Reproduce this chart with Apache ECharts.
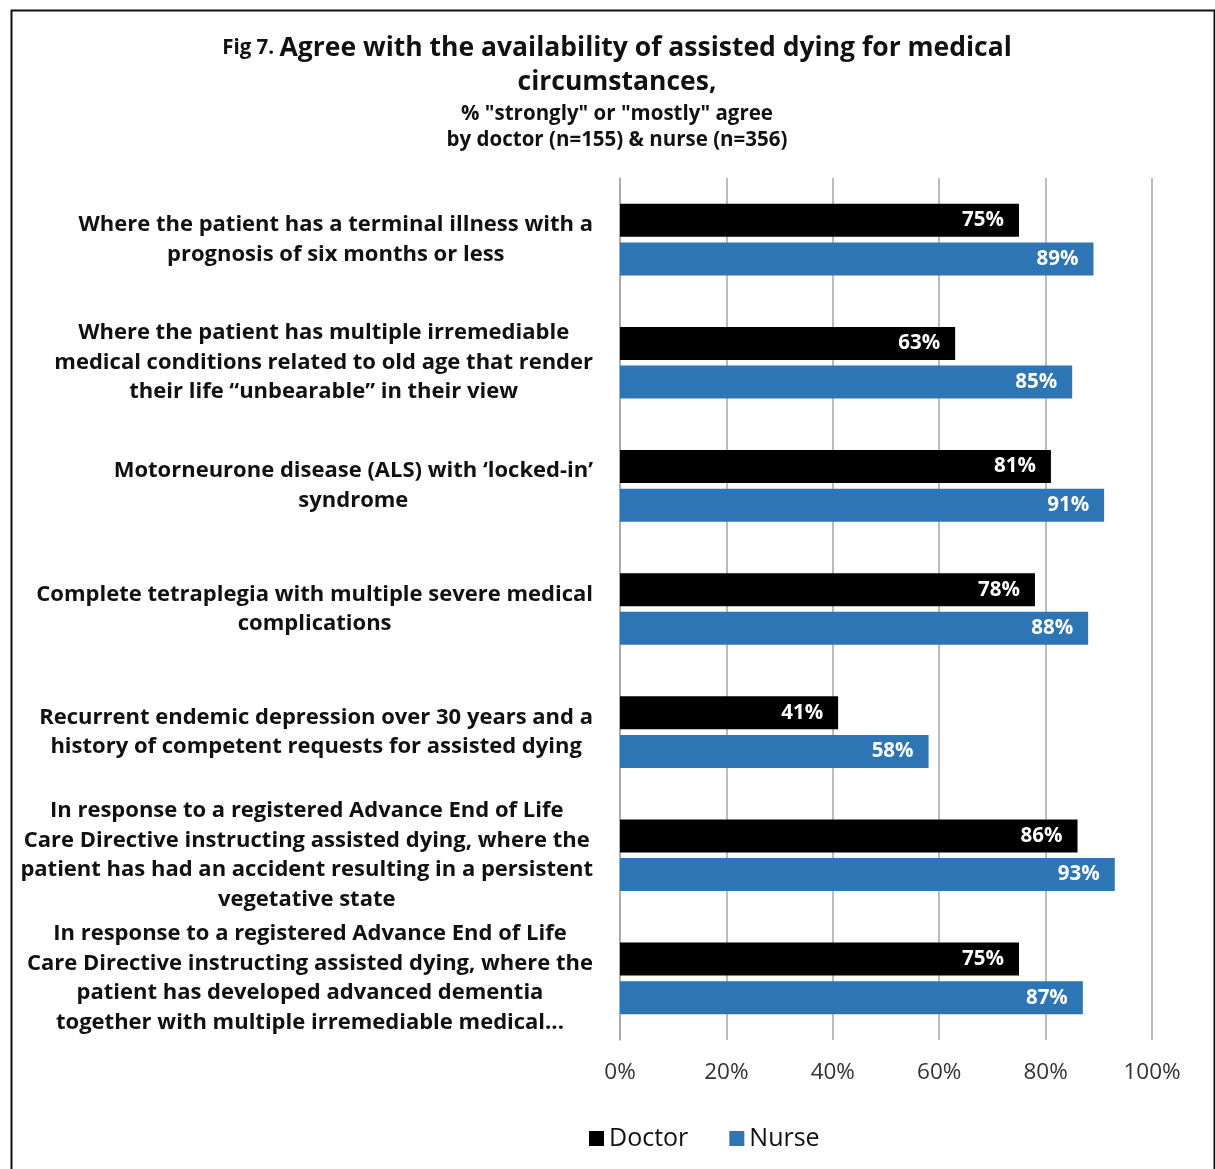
<!DOCTYPE html>
<html>
<head>
<meta charset="utf-8">
<script src="https://cdn.jsdelivr.net/npm/echarts@6/dist/echarts.min.js"></script>
<style>
html,body{margin:0;padding:0;background:#fff;}
#chart{width:1215px;height:1169px;}
</style>
</head>
<body>
<div id="chart"></div>
<script>
const categories = [
  "Where the patient has a terminal illness with a\nprognosis of six months or less",
  "Where the patient has multiple irremediable\nmedical conditions related to old age that render\ntheir life \u201cunbearable\u201d in their view",
  "Motorneurone disease (ALS) with \u2018locked-in\u2019\nsyndrome",
  "Complete tetraplegia with multiple severe medical\ncomplications",
  "Recurrent endemic depression over 30 years and a\nhistory of competent requests for assisted dying",
  "In response to a registered Advance End of Life\nCare Directive instructing assisted dying, where the\npatient has had an accident resulting in a persistent\nvegetative state",
  "In response to a registered Advance End of Life\nCare Directive instructing assisted dying, where the\npatient has developed advanced dementia\ntogether with multiple irremediable medical..."
];
const doctor = [75, 63, 81, 78, 41, 86, 75];
const nurse = [89, 85, 91, 88, 58, 93, 87];
const xTicks = [0, 20, 40, 60, 80, 100];
const seriesNames = ["Doctor", "Nurse"];

const FONT = "Open Sans";
const chart = echarts.init(document.getElementById('chart'));
chart.setOption({
  backgroundColor: '#fff',
  animation: false,
  graphic: [{
    type: 'rect', left: 9, top: 8, silent: true,
    shape: { width: 1203, height: 1200 },
    style: { fill: 'none', stroke: '#111', lineWidth: 2 }
  }],
  title: [{
    text: '{s|Fig 7. }{b|Agree with the availability of assisted dying for medical}\n{b|circumstances,}',
    left: 612, top: 26, textAlign: 'center',
    textStyle: {
      rich: {
        s: { fontFamily: FONT, fontSize: 20.5, fontWeight: 'bold', color: '#111' },
        b: { fontFamily: FONT, fontSize: 26.5, fontWeight: 'bold', color: '#111', lineHeight: 34 }
      }
    }
  }, {
    text: '% "strongly" or "mostly" agree\nby doctor (n=155) & nurse (n=356)',
    left: 612, top: 96, textAlign: 'center',
    textStyle: { fontFamily: FONT, fontSize: 20.5, fontWeight: 'bold', color: '#111', lineHeight: 26 }
  }],
  legend: {
    data: seriesNames,
    bottom: 13, left: 584,
    itemWidth: 15, itemHeight: 15, itemGap: 41,
    icon: 'rect',
    textStyle: { fontFamily: FONT, fontSize: 25, color: '#111' }
  },
  grid: { left: 620, right: 63, top: 178, bottom: 129, containLabel: false },
  xAxis: {
    type: 'value', min: 0, max: 100, interval: 20,
    axisLine: { show: false }, axisTick: { show: false },
    splitLine: { show: true, lineStyle: { color: '#a6a6a6', width: 1.5 } },
    axisLabel: { formatter: '{value}%', fontFamily: FONT, fontSize: 22.5, color: '#333', margin: 21 }
  },
  yAxis: {
    type: 'category', data: categories, inverse: true,
    axisLine: { show: true, lineStyle: { color: '#a6a6a6', width: 1.5 } },
    axisTick: { show: false },
    axisLabel: {
      margin: 27, align: 'right',
      formatter: v => v.split('\n').map(l => '{c|' + l + '}').join('\n'),
      rich: { c: { align: 'center', fontFamily: FONT, fontSize: 22, fontWeight: 'bold', color: '#111', lineHeight: 29.5 } }
    }
  },
  series: [{
    name: seriesNames[0], type: 'bar', data: doctor,
    barWidth: 33, barGap: '17%',
    itemStyle: { color: '#000' },
    label: { show: true, position: 'insideRight', distance: 15, formatter: '{c}%', color: '#fff', fontFamily: FONT, fontSize: 20.5, fontWeight: 'bold' }
  }, {
    name: seriesNames[1], type: 'bar', data: nurse,
    barWidth: 33,
    itemStyle: { color: '#2e75b6' },
    label: { show: true, position: 'insideRight', distance: 15, formatter: '{c}%', color: '#fff', fontFamily: FONT, fontSize: 20.5, fontWeight: 'bold' }
  }]
});
</script>
</body>
</html>
